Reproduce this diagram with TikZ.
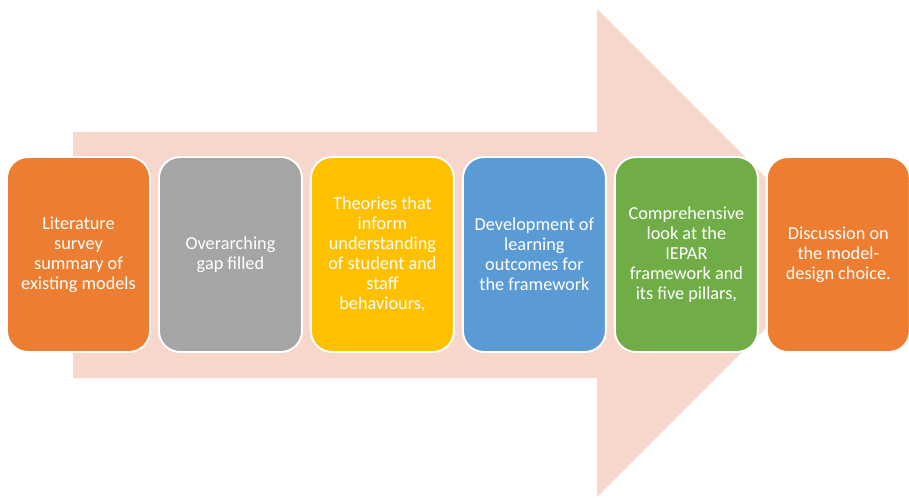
\documentclass[tikz,border=0pt]{standalone}
\usepackage{fontspec}
\setmainfont{Carlito}
\usepackage{tikz}
\usetikzlibrary{positioning}
\definecolor{arrowpink}{RGB}{247,214,204}
\definecolor{orangeA}{RGB}{237,125,49}
\definecolor{grayA}{RGB}{165,165,165}
\definecolor{goldA}{RGB}{255,192,0}
\definecolor{blueA}{RGB}{91,155,213}
\definecolor{greenA}{RGB}{112,173,71}

\begin{document}
\begin{tikzpicture} [x=0.02cm, y=-0.02cm, node distance =3.04cm, on grid,
  stage/.style ={rectangle, rounded corners=0.42cm, draw=white, line width=1.1pt, minimum width=2.86cm, minimum height=3.9cm, text=white, align=center, font=\fontsize{10.4}{11.4}\selectfont}]
\useasboundingbox (0,0) rectangle (909,497);
\fill[arrowpink] (73,132) -- (597,132) -- (597,9) -- (841,253) -- (597,497) -- (597,378) -- (73,378) -- cycle;
\node[stage, fill=orangeA] (S1) at (78.5,254.5) {Literature\\survey\\summary of\\existing models};
\node[stage, fill=grayA] (S2) [right=of S1] {Overarching\\gap filled};
\node[stage, fill=goldA] (S3) [right=of S2] {Theories that\\inform\\understanding\\of student and\\staff\\behaviours,};
\node[stage, fill=blueA] (S4) [right=of S3] {Development of\\learning\\outcomes for\\the framework};
\node[stage, fill=greenA] (S5) [right=of S4] {Comprehensive\\look at the\\IEPAR\\framework and\\its five pillars,};
\node[stage, fill=orangeA] (S6) [right=of S5] {Discussion on\\the model-\\design choice.};
\end{tikzpicture}
\end{document}
